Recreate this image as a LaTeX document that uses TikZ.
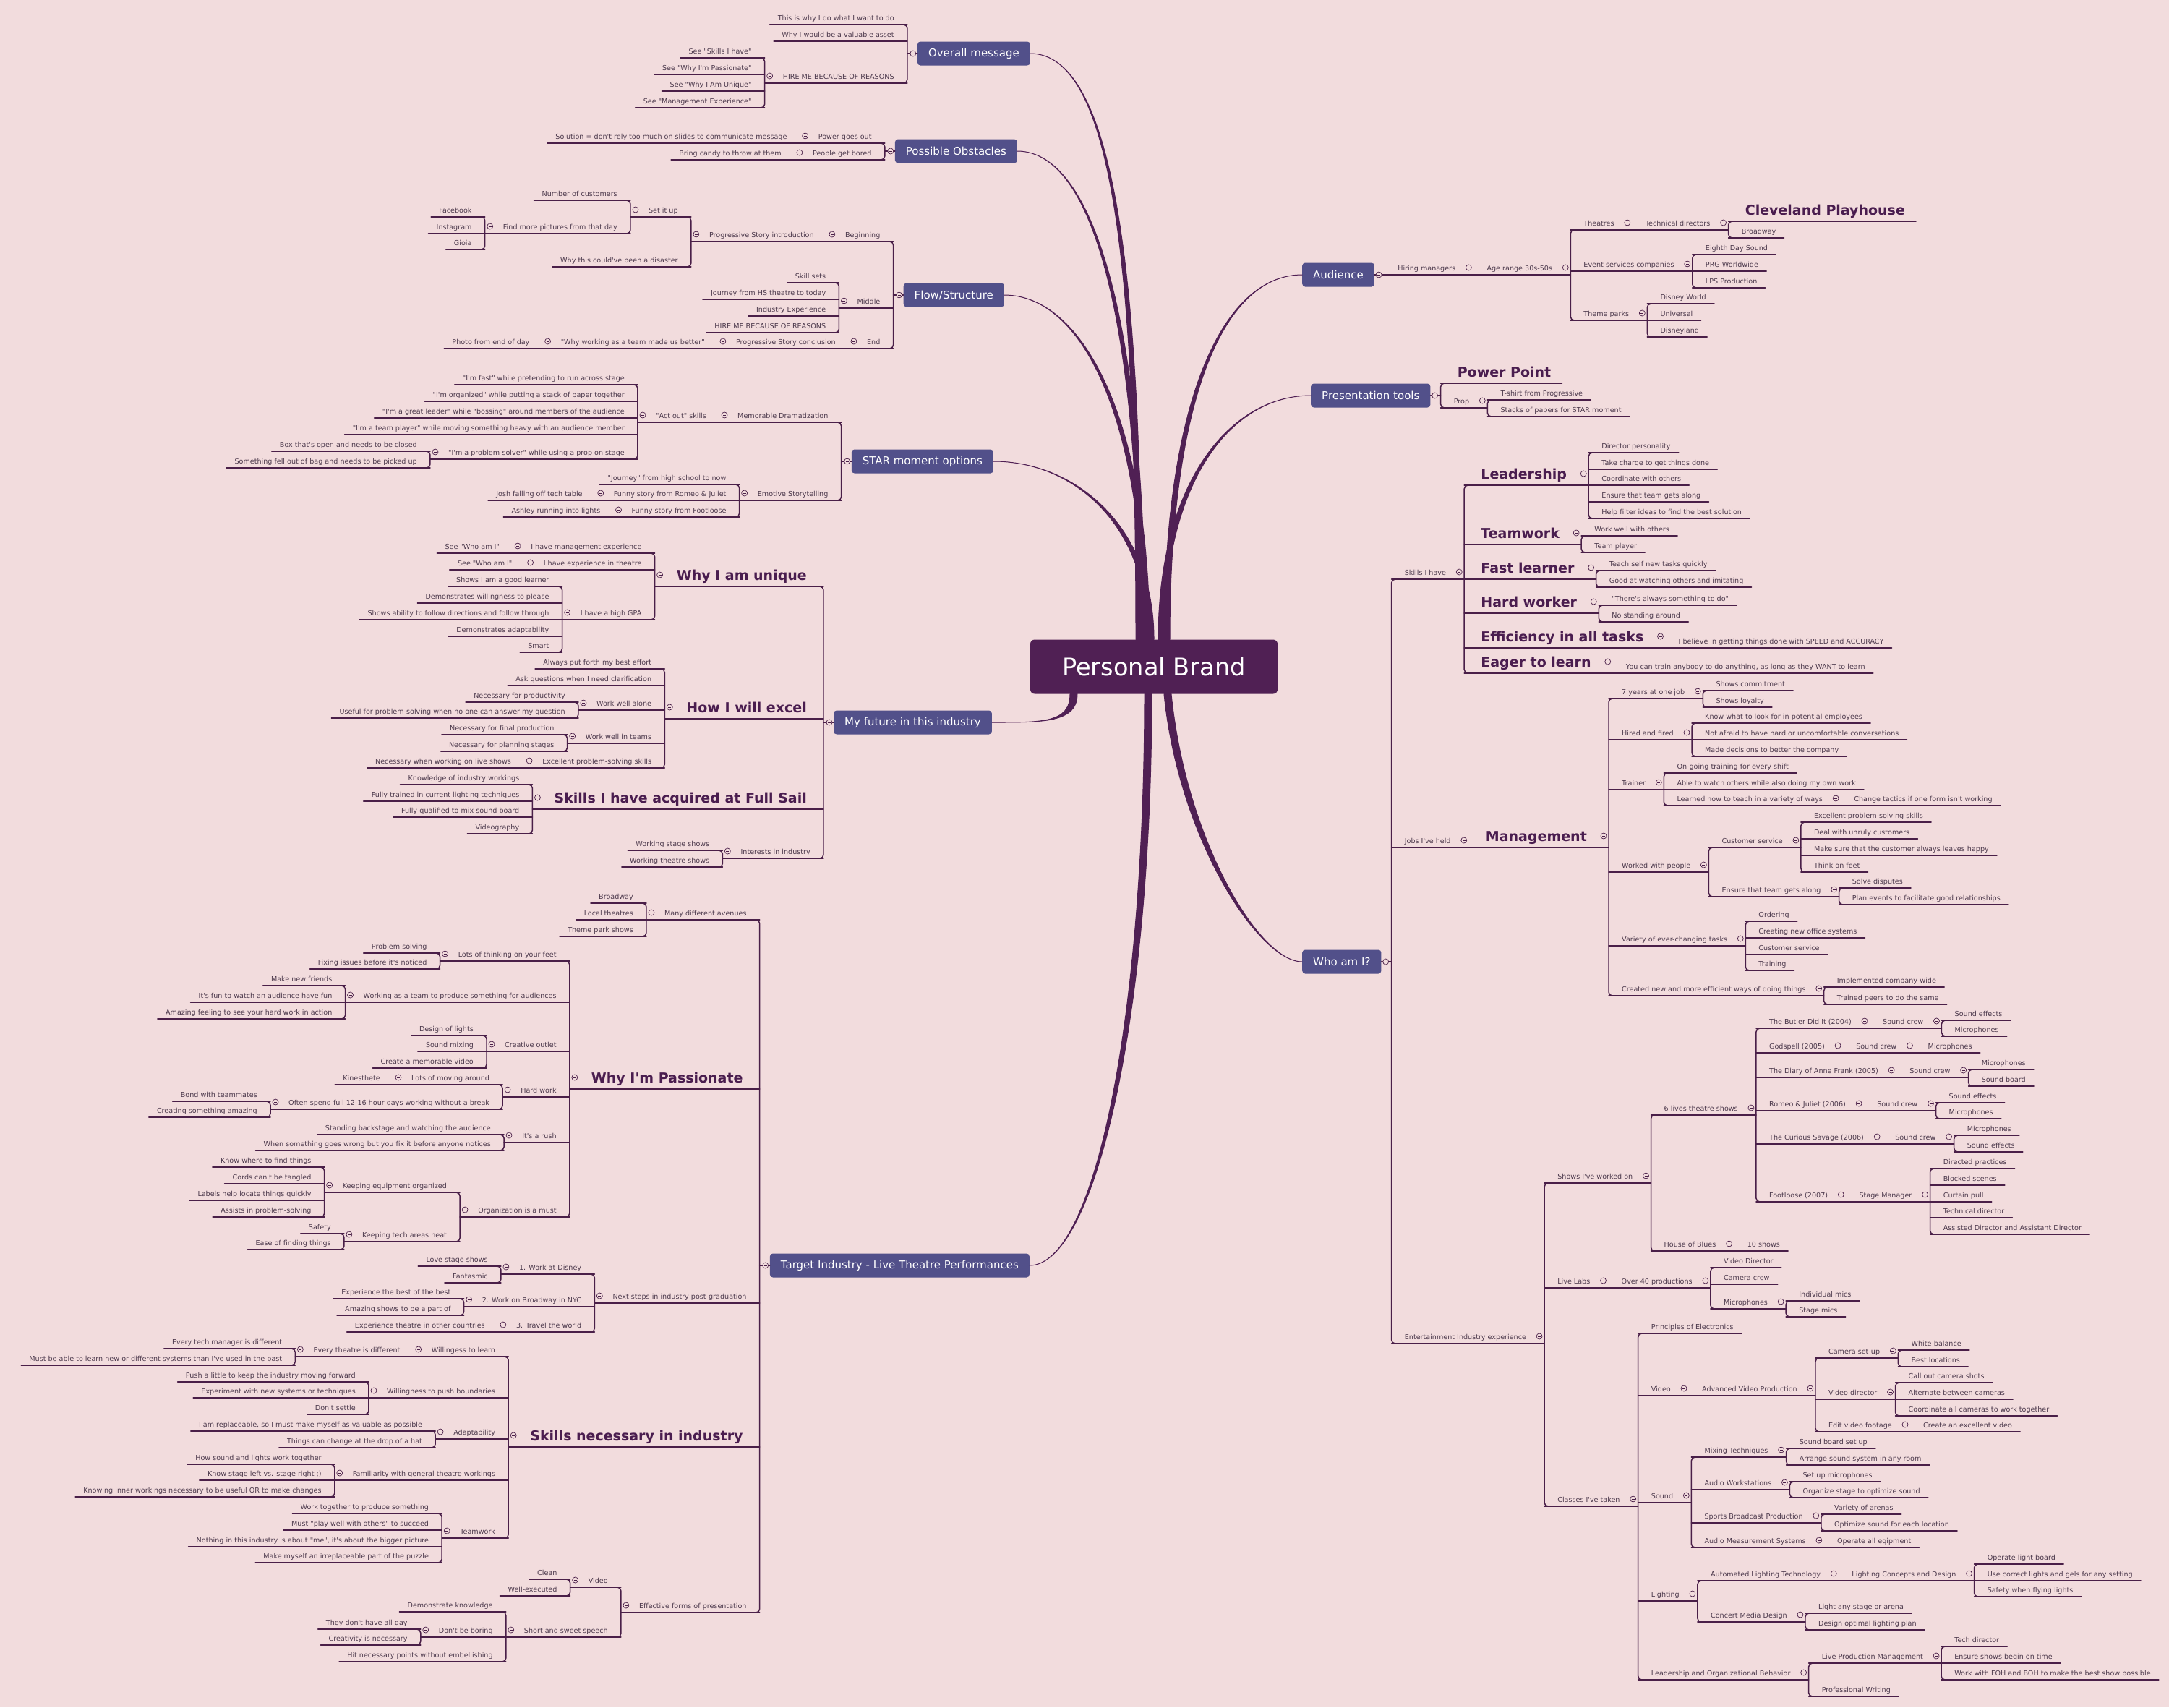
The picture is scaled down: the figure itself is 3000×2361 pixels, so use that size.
\documentclass[tikz,border=0pt]{standalone}
\usepackage{fontspec}
\setmainfont{DejaVu Sans}[Ligatures=TeXOff]
\definecolor{bgc}{RGB}{242,220,221}
\definecolor{linec}{RGB}{74,31,72}
\definecolor{rootc}{RGB}{80,32,84}
\definecolor{topicc}{RGB}{82,80,138}
\definecolor{textc}{RGB}{77,58,77}
\definecolor{headc}{RGB}{74,29,79}
\tikzset{
  link/.style={draw=linec, line width=1.5pt, line cap=round},
  branch/.style={fill=rootc, draw=rootc, line width=1pt},
  root/.style={fill=rootc, text=white, rounded corners=6pt, minimum width=342pt, minimum height=75pt, font=\fontsize{33.6}{40}\selectfont},
  topic/.style={fill=topicc, text=white, rounded corners=4pt, inner xsep=15pt, minimum height=33pt, font=\fontsize{15}{18}\selectfont},
  txt/.style={inner sep=0pt, text=textc, font=\fontsize{9.6}{11}\selectfont, text height=7.5pt, text depth=5.6pt,
    append after command={(\tikzlastnode.south west) edge[link] (\tikzlastnode.south east)}},
  big/.style={font=\bfseries\fontsize{19}{22}\selectfont, text=headc, text height=14pt, text depth=8pt},
  rside/.style 2 args={anchor=south west, execute at begin node=\hspace*{#1}, execute at end node=\hspace*{#2}},
  lside/.style 2 args={anchor=south east, execute at begin node=\hspace*{#2}, execute at end node=\hspace*{#1}},
  rleaf/.style={txt, rside={18pt}{11pt}},
  rpar/.style={txt, rside={18pt}{25pt}},
  rbleaf/.style={txt, big, rside={23pt}{15pt}},
  rbpar/.style={txt, big, rside={23pt}{30pt}},
  lleaf/.style={txt, lside={18pt}{11pt}},
  lpar/.style={txt, lside={18pt}{25pt}},
  lbpar/.style={txt, big, lside={23pt}{30pt}},
  knob/.style={circle, draw=linec, fill=bgc, line width=0.7pt, minimum size=8pt, inner sep=0pt,
    path picture={\draw[linec, line width=0.7pt] ([xshift=2pt]path picture bounding box.west) -- ([xshift=-2pt]path picture bounding box.east);}}
}
\begin{document}
\begin{tikzpicture}[x=1pt,y=-1pt,line join=round]
\fill[bgc] (0,0) rectangle (3000,2361);
\useasboundingbox (0,0) rectangle (3000,2361);

\node[root] (pb) at (1596,922) {Personal Brand};
\node[topic,anchor=east] (om) at (1425,74) {Overall message};
\node[topic,anchor=east] (po) at (1407,209) {Possible Obstacles};
\node[topic,anchor=east] (fs) at (1389,408) {Flow/Structure};
\node[topic,anchor=east] (star) at (1374,638) {STAR moment options};
\node[topic,anchor=east] (fut) at (1372,999) {My future in this industry};
\node[topic,anchor=east] (tgt) at (1424,1750) {Target Industry - Live Theatre Performances};
\node[topic,anchor=west] (aud) at (1801,380) {Audience};
\node[topic,anchor=west] (pt) at (1813,547) {Presentation tools};
\node[topic,anchor=west] (who) at (1801,1330) {Who am I?};
\foreach \t in {om,po,fs,star,fut,tgt} \coordinate (\t-b) at ([xshift=-14pt]\t.west);
\foreach \t in {aud,pt,who} \coordinate (\t-b) at ([xshift=14pt]\t.east);

% main branches
\filldraw[branch] (om.east) .. controls +(120,0) and +(0,-480) .. ([xshift=-25pt]pb.north) -- ([xshift=-17pt]pb.north) .. controls +(0,-480) and +(120,0) .. (om.east) -- cycle;
\filldraw[branch] (po.east) .. controls +(110,0) and +(0,-420) .. ([xshift=-20pt]pb.north) -- ([xshift=-12pt]pb.north) .. controls +(0,-420) and +(110,0) .. (po.east) -- cycle;
\filldraw[branch] (fs.east) .. controls +(110,0) and +(0,-300) .. ([xshift=-14pt]pb.north) -- ([xshift=-6pt]pb.north) .. controls +(0,-300) and +(110,0) .. (fs.east) -- cycle;
\filldraw[branch] (star.east) .. controls +(110,0) and +(0,-160) .. ([xshift=-8pt]pb.north) -- ([xshift=0pt]pb.north) .. controls +(0,-160) and +(110,0) .. (star.east) -- cycle;
\filldraw[branch] (aud.west) .. controls +(-110,0) and +(0,-330) .. ([xshift=22pt]pb.north) -- ([xshift=14pt]pb.north) .. controls +(0,-330) and +(-110,0) .. (aud.west) -- cycle;
\filldraw[branch] (pt.west) .. controls +(-110,0) and +(0,-220) .. ([xshift=14pt]pb.north) -- ([xshift=6pt]pb.north) .. controls +(0,-220) and +(-110,0) .. (pt.west) -- cycle;
\filldraw[branch] (fut.east) .. controls +(70,0) and +(0,40) .. ([xshift=-116pt]pb.south) -- ([xshift=-106pt]pb.south) .. controls +(0,40) and +(70,0) .. (fut.east) -- cycle;
\filldraw[branch] (tgt.east) .. controls +(90,0) and +(0,450) .. ([xshift=-13pt]pb.south) -- ([xshift=-3pt]pb.south) .. controls +(0,450) and +(90,0) .. (tgt.east) -- cycle;
\filldraw[branch] (who.west) .. controls +(-60,0) and +(20,200) .. ([xshift=14pt]pb.south) -- ([xshift=24pt]pb.south) .. controls +(20,200) and +(-60,0) .. (who.west) -- cycle;

% Overall message
\node[lleaf] (om1) at (om-b |- 0,34) {This is why I do what I want to do};
\node[lleaf] (om2) at (om-b |- 0,57) {Why I would be a valuable asset};
\node[lpar] (om3) at (om-b |- 0,115) {HIRE ME BECAUSE OF REASONS};
\foreach \i/\y/\t in {1/80/{See "Skills I have"},2/103/{See "Why I'm Passionate"},3/126/{See "Why I Am Unique"},4/149/{See "Management Experience"}}
  \node[lleaf] (om3-\i) at (om3.south west |- 0,\y) {\t};

% Possible Obstacles
\node[lpar] (po1) at (po-b |- 0,198) {Power goes out};
\node[lleaf] (po1a) at (po1.south west) {Solution = don't rely too much on slides to communicate message};
\node[lpar] (po2) at (po-b |- 0,221) {People get bored};
\node[lleaf] (po2a) at (po2.south west) {Bring candy to throw at them};

% Flow/Structure
\node[lpar] (fs1) at (fs-b |- 0,334) {Beginning};
\node[lpar] (fs1a) at (fs1.south west) {Progressive Story introduction};
\node[lpar] (fs1b) at (fs1a.south west |- 0,300) {Set it up};
\node[lleaf] (fs1c) at (fs1b.south west |- 0,277) {Number of customers};
\node[lpar] (fs1d) at (fs1b.south west |- 0,323) {Find more pictures from that day};
\foreach \i/\y/\t in {1/300/Facebook,2/323/Instagram,3/345/Gioia}
  \node[lleaf] (fs1d-\i) at (fs1d.south west |- 0,\y) {\t};
\node[lleaf] (fs1e) at (fs1a.south west |- 0,369) {Why this could've been a disaster};
\node[lpar] (fs2) at (fs-b |- 0,426) {Middle};
\foreach \i/\y/\t in {1/391/{Skill sets},2/414/{Journey from HS theatre to today},3/437/{Industry Experience},4/460/{HIRE ME BECAUSE OF REASONS}}
  \node[lleaf] (fs2-\i) at (fs2.south west |- 0,\y) {\t};
\node[lpar] (fs3) at (fs-b |- 0,482) {End};
\node[lpar] (fs3a) at (fs3.south west) {Progressive Story conclusion};
\node[lpar] (fs3b) at (fs3a.south west) {"Why working as a team made us better"};
\node[lleaf] (fs3c) at (fs3b.south west) {Photo from end of day};

% STAR moment options
\node[lpar] (st1) at (star-b |- 0,584) {Memorable Dramatization};
\node[lpar] (st1a) at (st1.south west) {"Act out" skills};
\foreach \i/\y/\t in {1/532/{"I'm fast" while pretending to run across stage},2/555/{"I'm organized" while putting a stack of paper together},3/578/{"I'm a great leader" while "bossing" around members of the audience},4/601/{"I'm a team player" while moving something heavy with an audience member}}
  \node[lleaf] (st1a-\i) at (st1a.south west |- 0,\y) {\t};
\node[lpar] (st1b) at (st1a.south west |- 0,635) {"I'm a problem-solver" while using a prop on stage};
\foreach \i/\y/\t in {1/624/{Box that's open and needs to be closed},2/647/{Something fell out of bag and needs to be picked up}}
  \node[lleaf] (st1b-\i) at (st1b.south west |- 0,\y) {\t};
\node[lpar] (st2) at (star-b |- 0,692) {Emotive Storytelling};
\node[lleaf] (st2a) at (st2.south west |- 0,670) {"Journey" from high school to now};
\node[lpar] (st2b) at (st2.south west |- 0,692) {Funny story from Romeo \& Juliet};
\node[lleaf] (st2c) at (st2b.south west) {Josh falling off tech table};
\node[lpar] (st2d) at (st2.south west |- 0,715) {Funny story from Footloose};
\node[lleaf] (st2e) at (st2d.south west) {Ashley running into lights};

% My future in this industry
\node[lbpar] (fu1) at (fut-b |- 0,811) {Why I am unique};
\node[lpar] (fu1a) at (fu1.south west |- 0,765) {I have management experience};
\node[lleaf] (fu1b) at (fu1a.south west) {See "Who am I"};
\node[lpar] (fu1c) at (fu1.south west |- 0,788) {I have experience in theatre};
\node[lleaf] (fu1d) at (fu1c.south west) {See "Who am I"};
\node[lpar] (fu1e) at (fu1.south west |- 0,857) {I have a high GPA};
\foreach \i/\y/\t in {1/811/{Shows I am a good learner},2/834/{Demonstrates willingness to please},3/857/{Shows ability to follow directions and follow through},4/880/{Demonstrates adaptability},5/902/{Smart}}
  \node[lleaf] (fu1e-\i) at (fu1e.south west |- 0,\y) {\t};
\node[lbpar] (fu2) at (fut-b |- 0,994) {How I will excel};
\node[lleaf] (fu2a) at (fu2.south west |- 0,925) {Always put forth my best effort};
\node[lleaf] (fu2b) at (fu2.south west |- 0,948) {Ask questions when I need clarification};
\node[lpar] (fu2c) at (fu2.south west |- 0,982) {Work well alone};
\foreach \i/\y/\t in {1/971/{Necessary for productivity},2/993/{Useful for problem-solving when no one can answer my question}}
  \node[lleaf] (fu2c-\i) at (fu2c.south west |- 0,\y) {\t};
\node[lpar] (fu2d) at (fu2.south west |- 0,1028) {Work well in teams};
\foreach \i/\y/\t in {1/1016/{Necessary for final production},2/1039/{Necessary for planning stages}}
  \node[lleaf] (fu2d-\i) at (fu2d.south west |- 0,\y) {\t};
\node[lpar] (fu2e) at (fu2.south west |- 0,1062) {Excellent problem-solving skills};
\node[lleaf] (fu2f) at (fu2e.south west) {Necessary when working on live shows};
\node[lbpar] (fu3) at (fut-b |- 0,1119) {Skills I have acquired at Full Sail};
\foreach \i/\y/\t in {1/1085/{Knowledge of industry workings},2/1108/{Fully-trained in current lighting techniques},3/1130/{Fully-qualified to mix sound board},4/1153/{Videography}}
  \node[lleaf] (fu3-\i) at (fu3.south west |- 0,\y) {\t};
\node[lpar] (fu4) at (fut-b |- 0,1187) {Interests in industry};
\foreach \i/\y/\t in {1/1176/{Working stage shows},2/1199/{Working theatre shows}}
  \node[lleaf] (fu4-\i) at (fu4.south west |- 0,\y) {\t};

% Target Industry
\node[lpar] (tg1) at (tgt-b |- 0,1272) {Many different avenues};
\foreach \i/\y/\t in {1/1249/{Broadway},2/1272/{Local theatres},3/1295/{Theme park shows}}
  \node[lleaf] (tg1-\i) at (tg1.south west |- 0,\y) {\t};
\node[lbpar] (tg2) at (tgt-b |- 0,1506) {Why I'm Passionate};
\node[lpar] (tg2a) at (tg2.south west |- 0,1329) {Lots of thinking on your feet};
\foreach \i/\y/\t in {1/1318/{Problem solving},2/1340/{Fixing issues before it's noticed}}
  \node[lleaf] (tg2a-\i) at (tg2a.south west |- 0,\y) {\t};
\node[lpar] (tg2b) at (tg2.south west |- 0,1386) {Working as a team to produce something for audiences};
\foreach \i/\y/\t in {1/1363/{Make new friends},2/1386/{It's fun to watch an audience have fun},3/1409/{Amazing feeling to see your hard work in action}}
  \node[lleaf] (tg2b-\i) at (tg2b.south west |- 0,\y) {\t};
\node[lpar] (tg2c) at (tg2.south west |- 0,1454) {Creative outlet};
\foreach \i/\y/\t in {1/1432/{Design of lights},2/1454/{Sound mixing},3/1477/{Create a memorable video}}
  \node[lleaf] (tg2c-\i) at (tg2c.south west |- 0,\y) {\t};
\node[lpar] (tg2d) at (tg2.south west |- 0,1517) {Hard work};
\node[lpar] (tg2e) at (tg2d.south west |- 0,1500) {Lots of moving around};
\node[lleaf] (tg2f) at (tg2e.south west) {Kinesthete};
\node[lpar] (tg2g) at (tg2d.south west |- 0,1534) {Often spend full 12-16 hour days working without a break};
\foreach \i/\y/\t in {1/1523/{Bond with teammates},2/1545/{Creating something amazing}}
  \node[lleaf] (tg2g-\i) at (tg2g.south west |- 0,\y) {\t};
\node[lpar] (tg2h) at (tg2.south west |- 0,1580) {It's a rush};
\foreach \i/\y/\t in {1/1569/{Standing backstage and watching the audience},2/1591/{When something goes wrong but you fix it before anyone notices}}
  \node[lleaf] (tg2h-\i) at (tg2h.south west |- 0,\y) {\t};
\node[lpar] (tg2i) at (tg2.south west |- 0,1683) {Organization is a must};
\node[lpar] (tg2j) at (tg2i.south west |- 0,1649) {Keeping equipment organized};
\foreach \i/\y/\t in {1/1614/{Know where to find things},2/1637/{Cords can't be tangled},3/1660/{Labels help locate things quickly},4/1683/{Assists in problem-solving}}
  \node[lleaf] (tg2j-\i) at (tg2j.south west |- 0,\y) {\t};
\node[lpar] (tg2k) at (tg2i.south west |- 0,1717) {Keeping tech areas neat};
\foreach \i/\y/\t in {1/1706/{Safety},2/1728/{Ease of finding things}}
  \node[lleaf] (tg2k-\i) at (tg2k.south west |- 0,\y) {\t};
\node[lpar] (tg3) at (tgt-b |- 0,1802) {Next steps in industry post-graduation};
\node[lpar] (tg3a) at (tg3.south west |- 0,1762) {1. Work at Disney};
\foreach \i/\y/\t in {1/1751/{Love stage shows},2/1774/{Fantasmic}}
  \node[lleaf] (tg3a-\i) at (tg3a.south west |- 0,\y) {\t};
\node[lpar] (tg3b) at (tg3.south west |- 0,1807) {2. Work on Broadway in NYC};
\foreach \i/\y/\t in {1/1796/{Experience the best of the best},2/1819/{Amazing shows to be a part of}}
  \node[lleaf] (tg3b-\i) at (tg3b.south west |- 0,\y) {\t};
\node[lpar] (tg3c) at (tg3.south west |- 0,1842) {3. Travel the world};
\node[lleaf] (tg3d) at (tg3c.south west) {Experience theatre in other countries};
\node[lbpar] (tg4) at (tgt-b |- 0,2001) {Skills necessary in industry};
\node[lpar] (tg4a) at (tg4.south west |- 0,1876) {Willingess to learn};
\node[lpar] (tg4b) at (tg4a.south west) {Every theatre is different};
\foreach \i/\y/\t in {1/1865/{Every tech manager is different},2/1888/{Must be able to learn new or different systems than I've used in the past}}
  \node[lleaf] (tg4b-\i) at (tg4b.south west |- 0,\y) {\t};
\node[lpar] (tg4c) at (tg4.south west |- 0,1933) {Willingness to push boundaries};
\foreach \i/\y/\t in {1/1911/{Push a little to keep the industry moving forward},2/1933/{Experiment with new systems or techniques},3/1956/{Don't settle}}
  \node[lleaf] (tg4c-\i) at (tg4c.south west |- 0,\y) {\t};
\node[lpar] (tg4d) at (tg4.south west |- 0,1990) {Adaptability};
\foreach \i/\y/\t in {1/1979/{I am replaceable, so I must make myself as valuable as possible},2/2002/{Things can change at the drop of a hat}}
  \node[lleaf] (tg4d-\i) at (tg4d.south west |- 0,\y) {\t};
\node[lpar] (tg4e) at (tg4.south west |- 0,2047) {Familiarity with general theatre workings};
\foreach \i/\y/\t in {1/2025/{How sound and lights work together},2/2047/{Know stage left vs. stage right ;)},3/2070/{Knowing inner workings necessary to be useful OR to make changes}}
  \node[lleaf] (tg4e-\i) at (tg4e.south west |- 0,\y) {\t};
\node[lpar] (tg4f) at (tg4.south west |- 0,2127) {Teamwork};
\foreach \i/\y/\t in {1/2093/{Work together to produce something},2/2116/{Must "play well with others" to succeed},3/2139/{Nothing in this industry is about "me", it's about the bigger picture},4/2161/{Make myself an irreplaceable part of the puzzle}}
  \node[lleaf] (tg4f-\i) at (tg4f.south west |- 0,\y) {\t};
\node[lpar] (tg5) at (tgt-b |- 0,2230) {Effective forms of presentation};
\node[lpar] (tg5a) at (tg5.south west |- 0,2195) {Video};
\foreach \i/\y/\t in {1/2184/{Clean},2/2207/{Well-executed}}
  \node[lleaf] (tg5a-\i) at (tg5a.south west |- 0,\y) {\t};
\node[lpar] (tg5b) at (tg5.south west |- 0,2264) {Short and sweet speech};
\node[lleaf] (tg5c) at (tg5b.south west |- 0,2229) {Demonstrate knowledge};
\node[lpar] (tg5d) at (tg5b.south west |- 0,2264) {Don't be boring};
\foreach \i/\y/\t in {1/2253/{They don't have all day},2/2275/{Creativity is necessary}}
  \node[lleaf] (tg5d-\i) at (tg5d.south west |- 0,\y) {\t};
\node[lleaf] (tg5e) at (tg5b.south west |- 0,2298) {Hit necessary points without embellishing};

% Audience
\node[rpar] (au1) at (aud-b) {Hiring managers};
\node[rpar] (au2) at (au1.south east) {Age range 30s-50s};
\node[rpar] (au3) at (au2.south east |- 0,318) {Theatres};
\node[rpar] (au4) at (au3.south east) {Technical directors};
\node[rbleaf] (au5) at (au4.south east |- 0,306) {Cleveland Playhouse};
\node[rleaf] (au6) at (au4.south east |- 0,329) {Broadway};
\node[rpar] (au7) at (au2.south east |- 0,375) {Event services companies};
\foreach \i/\y/\t in {1/352/{Eighth Day Sound},2/375/{PRG Worldwide},3/398/{LPS Production}}
  \node[rleaf] (au7-\i) at (au7.south east |- 0,\y) {\t};
\node[rpar] (au8) at (au2.south east |- 0,443) {Theme parks};
\foreach \i/\y/\t in {1/420/{Disney World},2/443/{Universal},3/466/{Disneyland}}
  \node[rleaf] (au8-\i) at (au8.south east |- 0,\y) {\t};

% Presentation tools
\node[rbleaf] (pt1) at (pt-b |- 0,530) {Power Point};
\node[rpar] (pt2) at (pt-b |- 0,564) {Prop};
\foreach \i/\y/\t in {1/553/{T-shirt from Progressive},2/576/{Stacks of papers for STAR moment}}
  \node[rleaf] (pt2-\i) at (pt2.south east |- 0,\y) {\t};

% Who am I?
\node[rpar] (wh1) at (who-b |- 0,801) {Skills I have};
\node[rbpar] (wh1a) at (wh1.south east |- 0,671) {Leadership};
\foreach \i/\y/\t in {1/626/{Director personality},2/649/{Take charge to get things done},3/671/{Coordinate with others},4/694/{Ensure that team gets along},5/717/{Help filter ideas to find the best solution}}
  \node[rleaf] (wh1a-\i) at (wh1a.south east |- 0,\y) {\t};
\node[rbpar] (wh1b) at (wh1.south east |- 0,753) {Teamwork};
\foreach \i/\y/\t in {1/741/{Work well with others},2/764/{Team player}}
  \node[rleaf] (wh1b-\i) at (wh1b.south east |- 0,\y) {\t};
\node[rbpar] (wh1c) at (wh1.south east |- 0,801) {Fast learner};
\foreach \i/\y/\t in {1/789/{Teach self new tasks quickly},2/812/{Good at watching others and imitating}}
  \node[rleaf] (wh1c-\i) at (wh1c.south east |- 0,\y) {\t};
\node[rbpar] (wh1d) at (wh1.south east |- 0,848) {Hard worker};
\foreach \i/\y/\t in {1/837/{"There's always something to do"},2/860/{No standing around}}
  \node[rleaf] (wh1d-\i) at (wh1d.south east |- 0,\y) {\t};
\node[rbpar] (wh1e) at (wh1.south east |- 0,896) {Efficiency in all tasks};
\node[rleaf] (wh1f) at (wh1e.south east) {I believe in getting things done with SPEED and ACCURACY};
\node[rbpar] (wh1g) at (wh1.south east |- 0,931) {Eager to learn};
\node[rleaf] (wh1h) at (wh1g.south east) {You can train anybody to do anything, as long as they WANT to learn};

\node[rpar] (wh2) at (who-b |- 0,1172) {Jobs I've held};
\node[rbpar] (mg) at (wh2.south east) {Management};
\node[rpar] (mg1) at (mg.south east |- 0,966) {7 years at one job};
\foreach \i/\y/\t in {1/955/{Shows commitment},2/978/{Shows loyalty}}
  \node[rleaf] (mg1-\i) at (mg1.south east |- 0,\y) {\t};
\node[rpar] (mg2) at (mg.south east |- 0,1023) {Hired and fired};
\foreach \i/\y/\t in {1/1000/{Know what to look for in potential employees},2/1023/{Not afraid to have hard or uncomfortable conversations},3/1046/{Made decisions to better the company}}
  \node[rleaf] (mg2-\i) at (mg2.south east |- 0,\y) {\t};
\node[rpar] (mg3) at (mg.south east |- 0,1092) {Trainer};
\node[rleaf] (mg3a) at (mg3.south east |- 0,1069) {On-going training for every shift};
\node[rleaf] (mg3b) at (mg3.south east |- 0,1092) {Able to watch others while also doing my own work};
\node[rpar] (mg3c) at (mg3.south east |- 0,1114) {Learned how to teach in a variety of ways};
\node[rleaf] (mg3d) at (mg3c.south east) {Change tactics if one form isn't working};
\node[rpar] (mg4) at (mg.south east |- 0,1206) {Worked with people};
\node[rpar] (mg4a) at (mg4.south east |- 0,1172) {Customer service};
\foreach \i/\y/\t in {1/1137/{Excellent problem-solving skills},2/1160/{Deal with unruly customers},3/1183/{Make sure that the customer always leaves happy},4/1206/{Think on feet}}
  \node[rleaf] (mg4a-\i) at (mg4a.south east |- 0,\y) {\t};
\node[rpar] (mg4b) at (mg4.south east |- 0,1240) {Ensure that team gets along};
\foreach \i/\y/\t in {1/1228/{Solve disputes},2/1251/{Plan events to facilitate good relationships}}
  \node[rleaf] (mg4b-\i) at (mg4b.south east |- 0,\y) {\t};
\node[rpar] (mg5) at (mg.south east |- 0,1308) {Variety of ever-changing tasks};
\foreach \i/\y/\t in {1/1274/{Ordering},2/1297/{Creating new office systems},3/1320/{Customer service},4/1342/{Training}}
  \node[rleaf] (mg5-\i) at (mg5.south east |- 0,\y) {\t};
\node[rpar] (mg6) at (mg.south east |- 0,1377) {Created new and more efficient ways of doing things};
\foreach \i/\y/\t in {1/1365/{Implemented company-wide},2/1389/{Trained peers to do the same}}
  \node[rleaf] (mg6-\i) at (mg6.south east |- 0,\y) {\t};

\node[rpar] (wh3) at (who-b |- 0,1858) {Entertainment Industry experience};
\node[rpar] (sh) at (wh3.south east |- 0,1636) {Shows I've worked on};
\node[rpar] (sh1) at (sh.south east |- 0,1542) {6 lives theatre shows};
\node[rpar] (sh1a) at (sh1.south east |- 0,1422) {The Butler Did It (2004)};
\node[rpar] (sh1b) at (sh1a.south east) {Sound crew};
\foreach \i/\y/\t in {1/1411/{Sound effects},2/1433/{Microphones}}
  \node[rleaf] (sh1b-\i) at (sh1b.south east |- 0,\y) {\t};
\node[rpar] (sh1c) at (sh1.south east |- 0,1456) {Godspell (2005)};
\node[rpar] (sh1d) at (sh1c.south east) {Sound crew};
\node[rleaf] (sh1e) at (sh1d.south east) {Microphones};
\node[rpar] (sh1f) at (sh1.south east |- 0,1490) {The Diary of Anne Frank (2005)};
\node[rpar] (sh1g) at (sh1f.south east) {Sound crew};
\foreach \i/\y/\t in {1/1479/{Microphones},2/1502/{Sound board}}
  \node[rleaf] (sh1g-\i) at (sh1g.south east |- 0,\y) {\t};
\node[rpar] (sh1h) at (sh1.south east |- 0,1536) {Romeo \& Juliet (2006)};
\node[rpar] (sh1i) at (sh1h.south east) {Sound crew};
\foreach \i/\y/\t in {1/1525/{Sound effects},2/1547/{Microphones}}
  \node[rleaf] (sh1i-\i) at (sh1i.south east |- 0,\y) {\t};
\node[rpar] (sh1j) at (sh1.south east |- 0,1582) {The Curious Savage (2006)};
\node[rpar] (sh1k) at (sh1j.south east) {Sound crew};
\foreach \i/\y/\t in {1/1570/{Microphones},2/1593/{Sound effects}}
  \node[rleaf] (sh1k-\i) at (sh1k.south east |- 0,\y) {\t};
\node[rpar] (sh1l) at (sh1.south east |- 0,1662) {Footloose (2007)};
\node[rpar] (sh1m) at (sh1l.south east) {Stage Manager};
\foreach \i/\y/\t in {1/1616/{Directed practices},2/1639/{Blocked scenes},3/1662/{Curtain pull},4/1684/{Technical director},5/1707/{Assisted Director and Assistant Director}}
  \node[rleaf] (sh1m-\i) at (sh1m.south east |- 0,\y) {\t};
\node[rpar] (sh2) at (sh.south east |- 0,1730) {House of Blues};
\node[rleaf] (sh2a) at (sh2.south east) {10 shows};
\node[rpar] (ll) at (wh3.south east |- 0,1781) {Live Labs};
\node[rpar] (ll1) at (ll.south east) {Over 40 productions};
\node[rleaf] (ll2) at (ll1.south east |- 0,1753) {Video Director};
\node[rleaf] (ll3) at (ll1.south east |- 0,1776) {Camera crew};
\node[rpar] (ll4) at (ll1.south east |- 0,1810) {Microphones};
\foreach \i/\y/\t in {1/1799/{Individual mics},2/1821/{Stage mics}}
  \node[rleaf] (ll4-\i) at (ll4.south east |- 0,\y) {\t};
\node[rpar] (cl) at (wh3.south east |- 0,2083) {Classes I've taken};
\node[rleaf] (cl1) at (cl.south east |- 0,1844) {Principles of Electronics};
\node[rpar] (cl2) at (cl.south east |- 0,1930) {Video};
\node[rpar] (cl2a) at (cl2.south east) {Advanced Video Production};
\node[rpar] (cl2b) at (cl2a.south east |- 0,1878) {Camera set-up};
\foreach \i/\y/\t in {1/1867/{White-balance},2/1890/{Best locations}}
  \node[rleaf] (cl2b-\i) at (cl2b.south east |- 0,\y) {\t};
\node[rpar] (cl2c) at (cl2a.south east |- 0,1935) {Video director};
\foreach \i/\y/\t in {1/1912/{Call out camera shots},2/1935/{Alternate between cameras},3/1958/{Coordinate all cameras to work together}}
  \node[rleaf] (cl2c-\i) at (cl2c.south east |- 0,\y) {\t};
\node[rpar] (cl2d) at (cl2a.south east |- 0,1980) {Edit video footage};
\node[rleaf] (cl2e) at (cl2d.south east) {Create an excellent video};
\node[rpar] (cl3) at (cl.south east |- 0,2078) {Sound};
\node[rpar] (cl3a) at (cl3.south east |- 0,2015) {Mixing Techniques};
\foreach \i/\y/\t in {1/2003/{Sound board set up},2/2026/{Arrange sound system in any room}}
  \node[rleaf] (cl3a-\i) at (cl3a.south east |- 0,\y) {\t};
\node[rpar] (cl3b) at (cl3.south east |- 0,2060) {Audio Workstations};
\foreach \i/\y/\t in {1/2049/{Set up microphones},2/2071/{Organize stage to optimize sound}}
  \node[rleaf] (cl3b-\i) at (cl3b.south east |- 0,\y) {\t};
\node[rpar] (cl3c) at (cl3.south east |- 0,2106) {Sports Broadcast Production};
\foreach \i/\y/\t in {1/2094/{Variety of arenas},2/2117/{Optimize sound for each location}}
  \node[rleaf] (cl3c-\i) at (cl3c.south east |- 0,\y) {\t};
\node[rpar] (cl3d) at (cl3.south east |- 0,2140) {Audio Measurement Systems};
\node[rleaf] (cl3e) at (cl3d.south east) {Operate all eqipment};
\node[rpar] (cl4) at (cl.south east |- 0,2214) {Lighting};
\node[rpar] (cl4a) at (cl4.south east |- 0,2186) {Automated Lighting Technology};
\node[rpar] (cl4b) at (cl4a.south east) {Lighting Concepts and Design};
\foreach \i/\y/\t in {1/2163/{Operate light board},2/2186/{Use correct lights and gels for any setting},3/2208/{Safety when flying lights}}
  \node[rleaf] (cl4b-\i) at (cl4b.south east |- 0,\y) {\t};
\node[rpar] (cl4c) at (cl4.south east |- 0,2243) {Concert Media Design};
\foreach \i/\y/\t in {1/2231/{Light any stage or arena},2/2254/{Design optimal lighting plan}}
  \node[rleaf] (cl4c-\i) at (cl4c.south east |- 0,\y) {\t};
\node[rpar] (cl5) at (cl.south east |- 0,2323) {Leadership and Organizational Behavior};
\node[rpar] (cl5a) at (cl5.south east |- 0,2300) {Live Production Management};
\foreach \i/\y/\t in {1/2277/{Tech director},2/2300/{Ensure shows begin on time},3/2323/{Work with FOH and BOH to make the best show possible}}
  \node[rleaf] (cl5a-\i) at (cl5a.south east |- 0,\y) {\t};
\node[rleaf] (cl5b) at (cl5.south east |- 0,2346) {Professional Writing};

% brackets
\foreach \a/\b in {au3/au8,au5/au6,au7-1/au7-3,au8-1/au8-3,pt1/pt2,pt2-1/pt2-2,wh1/wh3,wh1a/wh1g,wh1a-1/wh1a-5,wh1b-1/wh1b-2,wh1c-1/wh1c-2,wh1d-1/wh1d-2,mg1/mg6,mg1-1/mg1-2,mg2-1/mg2-3,mg3a/mg3c,mg4a/mg4b,mg4a-1/mg4a-4,mg4b-1/mg4b-2,mg5-1/mg5-4,mg6-1/mg6-2,sh/cl,sh1/sh2,sh1a/sh1l,sh1b-1/sh1b-2,sh1g-1/sh1g-2,sh1i-1/sh1i-2,sh1k-1/sh1k-2,sh1m-1/sh1m-5,ll2/ll4,ll4-1/ll4-2,cl1/cl5,cl2b/cl2d,cl2b-1/cl2b-2,cl2c-1/cl2c-3,cl3a/cl3d,cl3a-1/cl3a-2,cl3b-1/cl3b-2,cl3c-1/cl3c-2,cl4a/cl4c,cl4b-1/cl4b-3,cl4c-1/cl4c-2,cl5a/cl5b,cl5a-1/cl5a-3}
  \draw[link,rounded corners=5pt] ([xshift=8pt]\a.south west) -- (\a.south west) -- (\b.south west) -- ([xshift=8pt]\b.south west);
\foreach \a/\b in {om1/om3,om3-1/om3-4,po1/po2,fs1/fs3,fs1b/fs1e,fs1c/fs1d,fs1d-1/fs1d-3,fs2-1/fs2-4,st1/st2,st1a-1/st1b,st1b-1/st1b-2,st2a/st2d,fu1/fu4,fu1a/fu1e,fu1e-1/fu1e-5,fu2a/fu2e,fu2c-1/fu2c-2,fu2d-1/fu2d-2,fu3-1/fu3-4,fu4-1/fu4-2,tg1/tg5,tg1-1/tg1-3,tg2a/tg2i,tg2a-1/tg2a-2,tg2b-1/tg2b-3,tg2c-1/tg2c-3,tg2e/tg2g,tg2g-1/tg2g-2,tg2h-1/tg2h-2,tg2j/tg2k,tg2j-1/tg2j-4,tg2k-1/tg2k-2,tg3a/tg3c,tg3a-1/tg3a-2,tg3b-1/tg3b-2,tg4a/tg4f,tg4b-1/tg4b-2,tg4c-1/tg4c-3,tg4d-1/tg4d-2,tg4e-1/tg4e-3,tg4f-1/tg4f-4,tg5a/tg5b,tg5a-1/tg5a-2,tg5c/tg5e,tg5d-1/tg5d-2}
  \draw[link,rounded corners=5pt] ([xshift=-8pt]\a.south east) -- (\a.south east) -- (\b.south east) -- ([xshift=-8pt]\b.south east);
\foreach \t in {om,po,fs,star,fut,tgt} \draw[link] (\t.west) -- (\t-b);
\foreach \t in {aud,pt,who} \draw[link] (\t.east) -- (\t-b);

% collapse knobs
\foreach \t in {om,po,fs,star,fut,tgt} \node[knob] at ([xshift=-6pt]\t.west) {};
\foreach \t in {aud,pt,who} \node[knob] at ([xshift=6pt]\t.east) {};
\foreach \n in {au1,au2,au3,au4,au7,au8,pt2,wh1,wh2,wh3,mg1,mg2,mg3,mg3c,mg4,mg4a,mg4b,mg5,mg6,sh,sh1,sh1a,sh1b,sh1c,sh1d,sh1f,sh1g,sh1h,sh1i,sh1j,sh1k,sh1l,sh1m,sh2,ll,ll1,ll4,cl,cl2,cl2a,cl2b,cl2c,cl2d,cl3,cl3a,cl3b,cl3c,cl3d,cl4,cl4a,cl4b,cl4c,cl5,cl5a}
  \node[knob] at ([xshift=-7pt,yshift=10pt]\n.south east) {};
\foreach \n in {wh1a,wh1b,wh1c,wh1d,wh1e,wh1g,mg}
  \node[knob] at ([xshift=-7pt,yshift=16pt]\n.south east) {};
\foreach \n in {om3,po1,po2,fs1,fs1a,fs1b,fs1d,fs2,fs3,fs3a,fs3b,st1,st1a,st1b,st2,st2b,st2d,fu1a,fu1c,fu1e,fu2c,fu2d,fu2e,fu4,tg1,tg2a,tg2b,tg2c,tg2d,tg2e,tg2g,tg2h,tg2i,tg2j,tg2k,tg3,tg3a,tg3b,tg3c,tg4a,tg4b,tg4c,tg4d,tg4e,tg4f,tg5,tg5a,tg5b,tg5d}
  \node[knob] at ([xshift=7pt,yshift=10pt]\n.south west) {};
\foreach \n in {fu1,fu2,fu3,tg2,tg4}
  \node[knob] at ([xshift=7pt,yshift=16pt]\n.south west) {};
\end{tikzpicture}
\end{document}
